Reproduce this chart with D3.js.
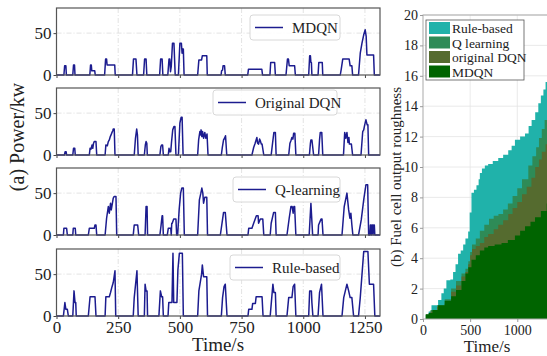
<!DOCTYPE html>
<html>
<head>
<meta charset="utf-8">
<script src="https://cdn.jsdelivr.net/npm/d3@7"></script>
<style>
  body { margin: 0; background: #fff; }
  svg { display: block; font-family: "Liberation Serif", "Times New Roman", serif; }
</style>
</head>
<body>
<svg id="chart" width="547" height="356"></svg>
<script>
// power traces, [time s, kW]
const mdqnPower = [
  [0,0],[30,0],[33,11],[38,11],[40,0],
  [66,0],[69,12],[73,12],[75,0],
  [135,0],[138,12],[141,12],[143,5],[155,5],[157,0],
  [195,0],[199,19],[203,19],[205,12],[236,12],[238,0],
  [308,0],[312,19],[322,19],[326,0],
  [353,0],[357,19],[363,19],[366,0],
  [418,0],[422,19],[428,19],[431,0],
  [451,0],[456,19],[459,19],[462,4],[465,10],[470,38],[476,38],[481,0],
  [494,0],[500,38],[506,38],[509,26],[511,31],[514,31],[517,0],
  [572,0],[577,18],[588,18],[591,23],[609,23],[611,0],
  [667,0],[669,5],[673,6],[675,11],[681,11],[684,0],
  [775,0],[778,7],[832,7],[835,0],
  [865,0],[868,15],[884,15],[887,0],
  [930,0],[936,19],[940,19],[943,11],[965,11],[968,0],
  [1022,0],[1026,23],[1029,23],[1031,15],[1033,15],[1035,0],
  [1060,0],[1063,15],[1077,15],[1079,0],
  [1150,0],[1154,7],[1160,19],[1186,19],[1190,11],[1197,11],[1200,0],
  [1224,0],[1231,26],[1238,38],[1245,48],[1251,54],[1255,46],[1258,24],[1285,24],[1288,0],
  [1311,0]
];
const dqnPower = [
  [0,0],[32,0],[35,4],[39,4],[41,0],
  [66,0],[69,8],[74,8],[76,0],
  [133,0],[136,8],[140,7],[144,12],[147,8],[150,14],[153,16],[160,16],[163,0],
  [197,0],[200,12],[206,11],[210,16],[214,18],[218,22],[221,24],[225,27],[228,29],[230,31],[234,31],[237,0],
  [315,0],[320,20],[325,31],[328,24],[331,0],
  [356,0],[360,12],[363,16],[366,14],[368,0],
  [419,0],[423,10],[426,12],[430,12],[433,0],
  [453,0],[456,8],[459,4],[463,4],[466,15],[471,30],[476,34],[480,34],[484,0],
  [494,0],[500,38],[505,45],[509,45],[513,0],
  [572,0],[576,18],[581,28],[584,24],[586,30],[589,22],[592,28],[596,20],[601,27],[605,20],[610,25],[614,0],
  [668,0],[672,9],[677,18],[681,20],[685,23],[690,0],
  [792,0],[799,9],[805,14],[812,21],[815,14],[819,13],[823,19],[826,17],[830,13],[833,13],[840,0],
  [870,0],[876,15],[881,27],[887,27],[890,0],
  [941,0],[946,14],[950,17],[954,21],[958,19],[961,26],[966,26],[970,0],
  [1025,0],[1029,14],[1031,18],[1035,18],[1042,0],
  [1062,0],[1066,18],[1069,27],[1075,27],[1079,0],
  [1163,0],[1168,27],[1172,20],[1177,27],[1181,15],[1185,21],[1187,13],[1195,13],[1200,0],
  [1234,0],[1241,28],[1245,30],[1249,36],[1254,42],[1259,36],[1262,36],[1265,0],
  [1311,0]
];
const qlPower = [
  [0,0],[28,0],[30,8],[41,8],[44,0],
  [66,0],[68,8],[76,8],[78,0],
  [129,0],[133,8],[153,8],[156,12],[160,12],[163,0],
  [197,0],[203,20],[210,34],[214,26],[219,38],[222,30],[230,44],[234,46],[241,46],[244,0],
  [311,0],[315,12],[329,12],[333,0],
  [359,0],[363,34],[367,34],[369,0],
  [419,0],[424,12],[428,23],[430,23],[433,0],
  [449,0],[453,8],[463,8],[465,0],[467,14],[469,14],[475,19],[484,19],[487,0],
  [491,0],[497,30],[503,50],[508,56],[514,56],[518,0],
  [572,0],[579,42],[585,50],[589,56],[593,50],[596,38],[601,45],[609,45],[612,0],
  [664,0],[677,27],[684,27],[691,0],
  [776,0],[779,8],[792,8],[799,14],[810,23],[817,23],[819,14],[826,19],[836,19],[840,0],
  [866,0],[870,14],[880,27],[887,27],[890,0],
  [934,0],[943,20],[950,34],[955,34],[959,26],[962,34],[965,34],[970,0],
  [1024,0],[1031,38],[1038,0],
  [1060,0],[1062,12],[1072,19],[1076,19],[1080,0],
  [1157,0],[1166,34],[1177,50],[1184,30],[1189,20],[1193,26],[1197,12],[1201,0],
  [1224,0],[1235,18],[1245,42],[1254,60],[1261,60],[1265,0],
  [1270,0],[1272,12],[1275,12],[1276,0],[1279,12],[1281,12],[1283,0],[1285,12],[1288,12],[1290,0],
  [1311,0]
];
const rulePower = [
  [0,0],[28,0],[34,16],[38,8],[44,8],[48,0],
  [66,0],[71,30],[75,16],[78,16],[80,0],
  [129,0],[136,23],[156,23],[160,0],
  [197,0],[200,23],[214,23],[219,28],[225,35],[230,40],[237,54],[240,0],
  [311,0],[315,22],[326,54],[331,0],
  [356,0],[359,38],[363,30],[367,30],[369,0],
  [415,0],[421,30],[426,23],[430,23],[433,0],
  [452,0],[455,16],[468,16],[472,75],[475,16],[488,16],[492,55],[498,75],[510,75],[514,0],
  [572,0],[577,30],[588,50],[591,61],[596,47],[609,47],[612,0],
  [668,0],[673,22],[679,35],[684,38],[691,0],
  [776,0],[779,8],[792,8],[795,15],[806,15],[809,23],[833,23],[837,0],
  [866,0],[877,38],[881,28],[887,28],[890,0],
  [934,0],[941,22],[954,22],[959,35],[965,38],[970,0],
  [1022,0],[1026,30],[1033,30],[1035,16],[1039,0],
  [1060,0],[1066,28],[1074,38],[1080,0],
  [1157,0],[1164,22],[1177,38],[1184,30],[1190,22],[1197,22],[1204,0],
  [1224,0],[1231,22],[1245,77],[1262,77],[1268,38],[1285,38],[1290,0],
  [1311,0]
];
const panelNames = ["MDQN", "Original DQN", "Q-learning", "Rule-based"];
const powerTicksX = [0, 250, 500, 750, 1000, 1250];
const powerTicksY = [0, 50];

// cumulative fuel cell output roughness, [time s, value]
const roughRule = [[0,0],[30,0.3],[60,0.5],[90,0.9],[160,1.25],[195,1.7],[220,2.0],[248,2.55],[290,2.6],[319,3.1],[345,3.6],[372,4.3],[400,4.5],[426,4.9],[450,5.3],[479,5.75],[495,7.0],[514,8.3],[540,8.5],[567,8.8],[590,9.2],[603,9.6],[625,9.9],[656,10.1],[691,10.2],[740,10.4],[798,10.6],[850,10.8],[904,11.1],[940,11.4],[975,11.8],[1030,12.0],[1082,12.2],[1120,12.7],[1152,13.1],[1190,13.6],[1223,14.2],[1250,14.7],[1277,15.1],[1300,15.6],[1330,16.0],[1400,16.5]];
const roughQ = [[0,0],[30,0.3],[80,0.6],[150,0.9],[230,1.3],[298,2.0],[350,2.5],[408,3.0],[450,3.3],[480,3.8],[500,4.4],[520,4.9],[560,5.3],[603,5.8],[650,6.2],[700,6.6],[750,6.8],[800,6.9],[850,7.2],[900,7.6],[950,8.1],[1000,8.6],[1050,9.2],[1117,10.1],[1160,10.7],[1200,11.3],[1230,11.9],[1260,12.5],[1290,13.1],[1320,13.8],[1400,14.2]];
const roughDQN = [[0,0],[30,0.3],[80,0.5],[150,0.8],[230,1.0],[298,1.8],[350,2.2],[408,2.8],[450,3.1],[480,3.6],[500,4.2],[520,4.6],[560,4.8],[603,5.0],[650,5.4],[691,5.6],[750,5.9],[798,6.2],[850,6.5],[904,6.9],[950,7.3],[1000,7.7],[1050,8.2],[1100,8.7],[1150,9.3],[1190,10.0],[1230,10.5],[1260,11.0],[1300,11.5],[1400,12]];
const roughMDQN = [[0,0],[30,0.3],[60,0.4],[100,0.6],[160,0.9],[230,1.2],[298,1.5],[350,1.9],[408,2.5],[450,3.0],[480,3.4],[514,3.9],[560,4.2],[603,4.5],[650,4.7],[691,4.8],[760,4.9],[833,5.0],[900,5.2],[975,5.5],[1030,5.8],[1082,6.1],[1140,6.4],[1188,6.7],[1250,7.1],[1312,7.6],[1400,8.0]];
const roughNames = ["Rule-based", "Q learning", "original DQN", "MDQN"];
const roughColors = ["#20b2aa", "#2e8b57", "#556b2f", "#006400"];
const roughTicksX = [0, 500, 1000];
const roughTicksY = [0, 2, 4, 6, 8, 10, 12, 14, 16, 18, 20];

const svg = d3.select("#chart");
const lineColor = "#1c1c8f";
const serif = "Liberation Serif";

// ---- (a) stacked power panels ----
const x = d3.scaleLinear().domain([0, 1311]).range([56.5, 380]);
const panelTops = [8, 88, 168, 249];
const panelH = 67;
const series = [mdqnPower, dqnPower, qlPower, rulePower];
const legendBoxes = [
  { x: 250, y: 15, w: 90 }, { x: 213, y: 90, w: 124 },
  { x: 233, y: 177, w: 107 }, { x: 230, y: 255, w: 110 }
];

series.forEach((data, i) => {
  const top = panelTops[i];
  const y = d3.scaleLinear().domain([0, 80]).range([top + panelH, top]);
  const g = svg.append("g");

  // grid
  g.selectAll(".gx").data(powerTicksX.slice(1)).enter().append("line")
    .attr("x1", d => x(d)).attr("x2", d => x(d))
    .attr("y1", top).attr("y2", top + panelH)
    .attr("stroke", "#dcdcdc").attr("stroke-width", 0.8)
    .attr("stroke-dasharray", "5,2,1,2");
  g.append("line")
    .attr("x1", x(0)).attr("x2", x(1311))
    .attr("y1", y(50)).attr("y2", y(50))
    .attr("stroke", "#dcdcdc").attr("stroke-width", 0.8)
    .attr("stroke-dasharray", "5,2,1,2");

  g.append("path").datum(data)
    .attr("fill", "none")
    .attr("stroke", lineColor)
    .attr("stroke-width", 1.5)
    .attr("stroke-linejoin", "round")
    .attr("d", d3.line().x(d => x(d[0])).y(d => y(d[1])));

  const yAxis = g.append("g")
    .attr("transform", `translate(${x(0)},0)`)
    .call(d3.axisLeft(y).tickValues(powerTicksY).tickSize(3).tickPadding(2));
  yAxis.select(".domain").remove();
  yAxis.selectAll("text").style("font-size", "17px").attr("fill", "#222")
    .style("font-family", serif);
  yAxis.selectAll("line").attr("stroke", "#444");

  const xAxis = g.append("g")
    .attr("transform", `translate(0,${top + panelH})`)
    .call(d3.axisBottom(x).tickValues(powerTicksX).tickFormat(d3.format("d"))
      .tickSize(3).tickPadding(2));
  xAxis.select(".domain").remove();
  xAxis.selectAll("line").attr("stroke", "#444");
  if (i < 3) xAxis.selectAll("text").remove();
  else xAxis.selectAll("text").style("font-size", "17px").attr("fill", "#222")
    .style("font-family", serif);

  g.append("rect")
    .attr("x", x(0)).attr("y", top)
    .attr("width", x(1311) - x(0)).attr("height", panelH)
    .attr("fill", "none").attr("stroke", "#555").attr("stroke-width", 1.2);

  // legend
  const lb = legendBoxes[i];
  g.append("rect")
    .attr("x", lb.x).attr("y", lb.y).attr("width", lb.w).attr("height", 25)
    .attr("rx", 3).attr("fill", "#fff").attr("fill-opacity", 0.85)
    .attr("stroke", "#d8d8d8").attr("stroke-width", 1);
  g.append("line")
    .attr("x1", lb.x + 5).attr("x2", lb.x + 33)
    .attr("y1", lb.y + 12.5).attr("y2", lb.y + 12.5)
    .attr("stroke", lineColor).attr("stroke-width", 1.5);
  g.append("text")
    .attr("x", lb.x + 42).attr("y", lb.y + 18)
    .style("font-size", "15px").attr("fill", "#222")
    .text(panelNames[i]);
});

svg.append("text")
  .attr("transform", "translate(24,137) rotate(-90)")
  .attr("text-anchor", "middle")
  .style("font-size", "20px").attr("fill", "#222")
  .text("(a)  Power/kw");

svg.append("text")
  .attr("x", 218).attr("y", 351)
  .attr("text-anchor", "middle")
  .style("font-size", "19px").attr("fill", "#222")
  .text("Time/s");

// ---- (b) roughness ----
const xr = d3.scaleLinear().domain([0, 1400]).range([423, 555]);
const yr = d3.scaleLinear().domain([0, 20]).range([319, 15]);
const gr = svg.append("g");

gr.selectAll(".gxr").data(roughTicksX.slice(1)).enter().append("line")
  .attr("x1", d => xr(d)).attr("x2", d => xr(d))
  .attr("y1", yr(20)).attr("y2", yr(0))
  .attr("stroke", "#e4e4e4").attr("stroke-width", 0.8);
gr.selectAll(".gyr").data(roughTicksY.slice(1)).enter().append("line")
  .attr("x1", xr(0)).attr("x2", 547)
  .attr("y1", d => yr(d)).attr("y2", d => yr(d))
  .attr("stroke", "#e4e4e4").attr("stroke-width", 0.8);

const area = d3.area()
  .curve(d3.curveStepAfter)
  .x(d => xr(d[0])).y0(yr(0)).y1(d => yr(d[1]));
[roughRule, roughQ, roughDQN, roughMDQN].forEach((data, i) => {
  gr.append("path").datum(data)
    .attr("fill", roughColors[i])
    .attr("d", area);
});

gr.append("rect")
  .attr("x", xr(0)).attr("y", yr(20))
  .attr("width", 140).attr("height", yr(0) - yr(20))
  .attr("fill", "none").attr("stroke", "#aaa").attr("stroke-width", 1);

const yAxisR = gr.append("g")
  .attr("transform", `translate(${xr(0)},0)`)
  .call(d3.axisLeft(yr).tickValues(roughTicksY).tickSize(3).tickPadding(2));
yAxisR.select(".domain").remove();
yAxisR.selectAll("line").attr("stroke", "#999");
yAxisR.selectAll("text").style("font-size", "14px").attr("fill", "#222")
  .style("font-family", serif);

const xAxisR = gr.append("g")
  .attr("transform", `translate(0,${yr(0)})`)
  .call(d3.axisBottom(xr).tickValues(roughTicksX).tickFormat(d3.format("d"))
    .tickSize(3).tickPadding(3));
xAxisR.select(".domain").remove();
xAxisR.selectAll("line").attr("stroke", "#999");
xAxisR.selectAll("text").style("font-size", "14px").attr("fill", "#222")
  .style("font-family", serif);

// legend
gr.append("rect")
  .attr("x", 426).attr("y", 20).attr("width", 98).attr("height", 60)
  .attr("fill", "#fff").attr("stroke", "#555").attr("stroke-width", 0.8);
roughNames.forEach((name, i) => {
  gr.append("rect")
    .attr("x", 429).attr("y", 22 + i * 14.5)
    .attr("width", 21).attr("height", 12)
    .attr("fill", roughColors[i]);
  gr.append("text")
    .attr("x", 452).attr("y", 33 + i * 14.5)
    .style("font-size", "13.5px").attr("fill", "#222")
    .text(name);
});

svg.append("text")
  .attr("transform", "translate(401,177) rotate(-90)")
  .attr("text-anchor", "middle")
  .style("font-size", "15px").attr("fill", "#222")
  .text("(b)  Fuel cell output roughness");

svg.append("text")
  .attr("x", 487).attr("y", 352)
  .attr("text-anchor", "middle")
  .style("font-size", "17px").attr("fill", "#222")
  .text("Time/s");
</script>
</body>
</html>
